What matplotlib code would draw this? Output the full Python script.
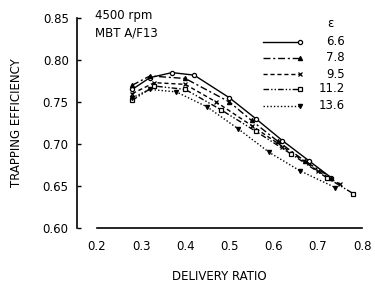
import matplotlib
matplotlib.use("Agg")
import matplotlib.pyplot as plt

plt.rcParams['font.family'] = ['DejaVu Sans']

# Data
labels = ["6.6", "7.8", "9.5", "11.2", "13.6"]
x66 = [0.28, 0.32, 0.37, 0.42, 0.50, 0.56, 0.62, 0.68, 0.73]
y66 = [0.765, 0.779, 0.785, 0.782, 0.755, 0.730, 0.704, 0.680, 0.660]
x78 = [0.28, 0.32, 0.40, 0.50, 0.55, 0.61, 0.67, 0.73]
y78 = [0.770, 0.781, 0.778, 0.750, 0.728, 0.703, 0.680, 0.660]
x95 = [0.28, 0.33, 0.40, 0.47, 0.55, 0.62, 0.70, 0.75]
y95 = [0.760, 0.773, 0.771, 0.750, 0.722, 0.697, 0.668, 0.652]
x112 = [0.28, 0.33, 0.40, 0.48, 0.56, 0.64, 0.72, 0.78]
y112 = [0.752, 0.769, 0.765, 0.741, 0.715, 0.688, 0.660, 0.641]
x136 = [0.28, 0.32, 0.38, 0.45, 0.52, 0.59, 0.66, 0.74]
y136 = [0.755, 0.765, 0.762, 0.744, 0.718, 0.690, 0.668, 0.648]

xs = [x66, x78, x95, x112, x136]
ys = [y66, y78, y95, y112, y136]
styles = ['-', (0, (5, 2, 1.5, 2)), (0, (3, 2)), (0, (4, 1.5, 1, 1.5, 1, 1.5)), (0, (1, 1.5))]
markers = ['o', '^', 'x', 's', 'v']
mfc = ['white', 'black', 'black', 'white', 'black']

fig = plt.figure(figsize=(3.75, 2.89), dpi=100)
ax = fig.add_axes([77/375, 61/289, 285/375, 210/289])

for x, y, ls, m, fc in zip(xs, ys, styles, markers, mfc):
    ax.plot(x, y, color='black', linestyle=ls, linewidth=1.0,
            marker=m, markersize=3, markerfacecolor=fc, markeredgecolor='black',
            markeredgewidth=0.9)

ax.set_xlim(0.155, 0.80)
ax.set_ylim(0.60, 0.85)
ax.spines['top'].set_visible(False)
ax.spines['right'].set_visible(False)
ax.spines['bottom'].set_bounds(0.2, 0.8)
ax.spines['left'].set_linewidth(1.2)
ax.spines['bottom'].set_linewidth(1.2)

ax.set_xticks([0.2, 0.3, 0.4, 0.5, 0.6, 0.7, 0.8])
ax.set_xticklabels(["0.2", "0.3", "0.4", "0.5", "0.6", "0.7", "0.8"])
ax.set_yticks([0.60, 0.65, 0.70, 0.75, 0.80, 0.85])
ax.set_yticklabels(["0.60", "0.65", "0.70", "0.75", "0.80", "0.85"])
ax.tick_params(axis='x', length=0, pad=9, labelsize=8.5)
ax.tick_params(axis='y', direction='in', length=3, width=1, pad=6, labelsize=8.5)

ax.set_xlabel("DELIVERY RATIO", fontsize=8.5, labelpad=12)
ax.set_ylabel("TRAPPING EFFICIENCY", fontsize=8.5, labelpad=14)

ax.text(0.063, 1.014, "4500 rpm", transform=ax.transAxes, fontsize=8.5, va='center', ha='left')
ax.text(0.063, 0.929, "MBT A/F13", transform=ax.transAxes, fontsize=8.5, va='center', ha='left')

# legend (drawn manually, marker at right end of line)
ax.text(0.888, 0.976, "ε", transform=ax.transAxes, fontsize=8.5, va='center', ha='center')
rows = [0.886, 0.810, 0.733, 0.662, 0.581]
for r, lab, ls, m, fc in zip(rows, labels, styles, markers, mfc):
    ax.plot([0.653, 0.782], [r, r], transform=ax.transAxes, color='black',
            linestyle=ls, linewidth=1.0, clip_on=False)
    ax.plot([0.782], [r], transform=ax.transAxes, color='black', marker=m,
            markersize=3, markerfacecolor=fc, markeredgecolor='black',
            markeredgewidth=0.9, clip_on=False)
    ax.text(0.940, r, lab, transform=ax.transAxes, fontsize=8.5, va='center', ha='right')

fig.savefig("out.png", dpi=100)
